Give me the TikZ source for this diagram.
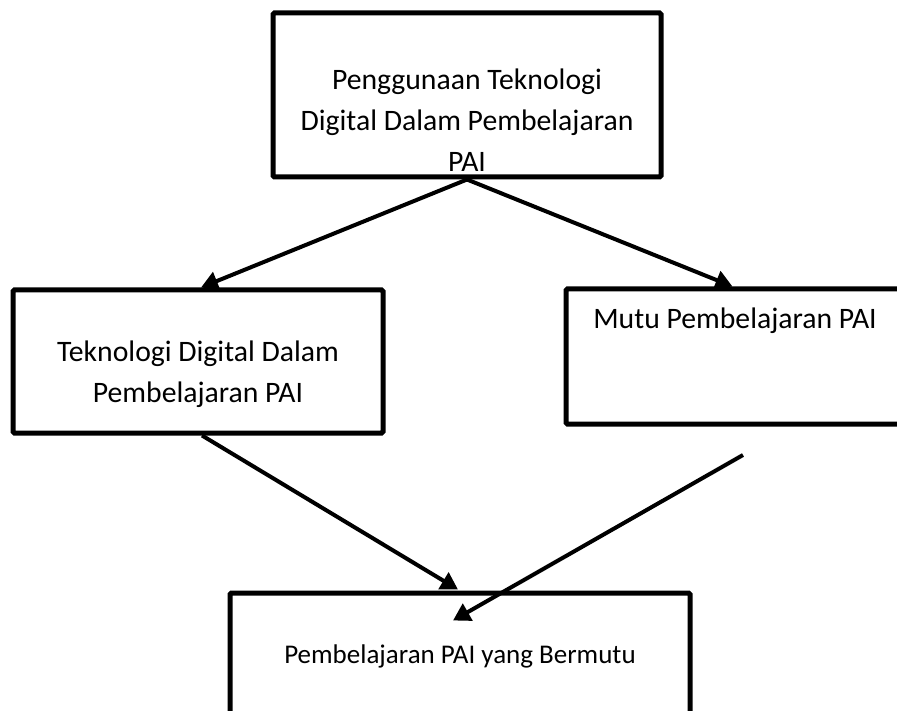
\documentclass[tikz,border=0pt]{standalone}
\usepackage{fontspec}
\setmainfont{Carlito}
\usetikzlibrary{arrows.meta}
\begin{document}
\begin{tikzpicture}[x=1pt,y=-1pt,
  box/.style={draw=black,line width=5pt,rounded corners=1.5pt,inner sep=0pt,fill=none},
  txt/.style={align=center,inner sep=0pt,font=\fontsize{29.7}{41}\selectfont},
  smalltxt/.style={align=center,inner sep=0pt,font=\fontsize{27}{38}\selectfont},
  conn/.style={line width=4pt,-{Triangle[length=17pt,width=19pt]}}]
\useasboundingbox[fill=white] (0,0) rectangle (897,711);
\node[box,minimum width=388pt,minimum height=164pt] (top) at (467,95) {};
\node[box,minimum width=370pt,minimum height=143pt] (left) at (198,361.5) {};
\node[box,minimum width=337pt,minimum height=135pt] (right) at (734.5,356.5) {};
\node[box,minimum width=460pt,minimum height=123pt] (bot) at (460,654.5) {};
\node[txt] (toptext) at (467,120) {Penggunaan Teknologi\\Digital Dalam Pembelajaran\\PAI};
\node[txt] (lefttext) at (198,374) {Teknologi Digital Dalam\\Pembelajaran PAI};
\node[txt] (righttext) at (735,321) {Mutu Pembelajaran PAI};
\node[smalltxt] (bottext) at (460,656) {Pembelajaran PAI yang Bermutu};
\coordinate (rstart) at (743,455);
\coordinate (ltip) at ([xshift=3pt]left.north);
\coordinate (rtip) at ([xshift=-2pt]right.north);
\coordinate (btip) at ([xshift=-2pt,yshift=1pt]bot.north);
\coordinate (btip2) at ([xshift=-7pt,yshift=-30pt]bot.north);
\draw[conn] (top.south) -- (ltip);
\draw[conn] (top.south) -- (rtip);
\draw[conn] ([xshift=4pt]left.south) -- (btip);
\draw[conn] (rstart) -- (btip2);
\end{tikzpicture}
\end{document}
